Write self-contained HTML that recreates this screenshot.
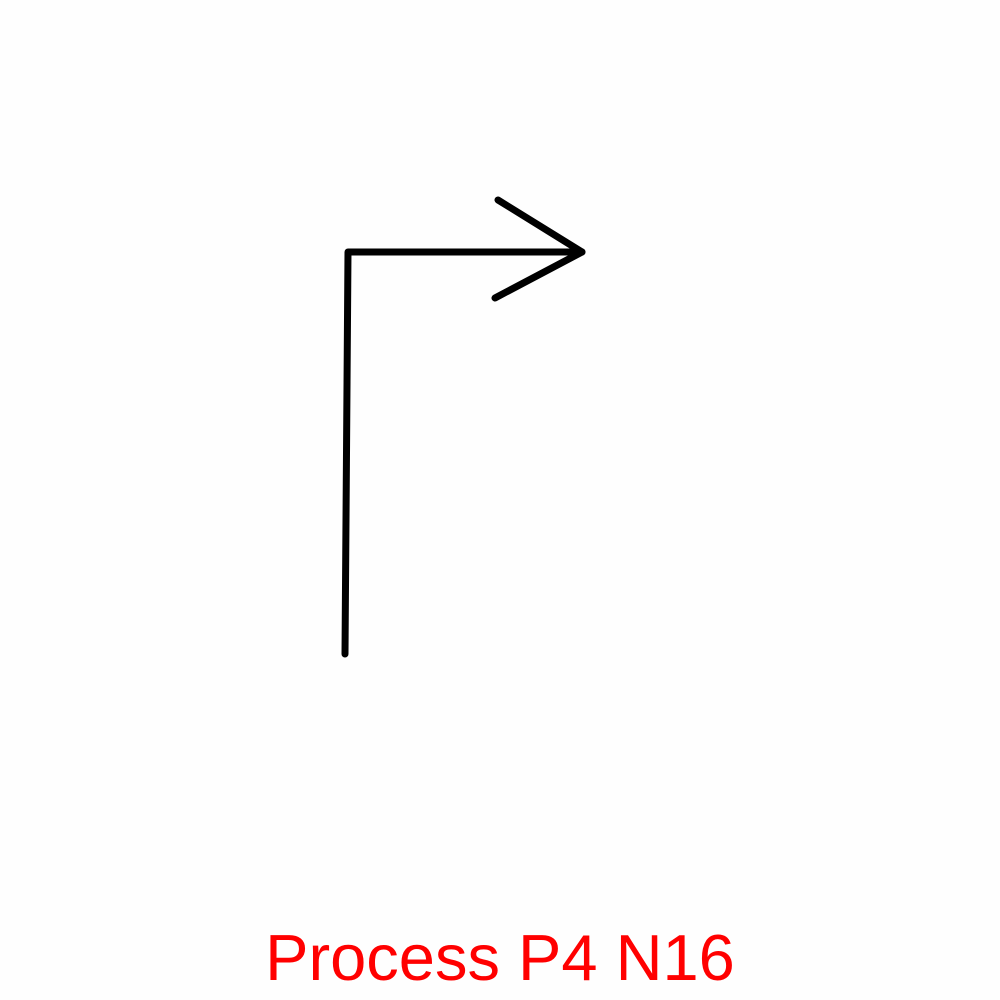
<!DOCTYPE html>
<html>
<head>
<meta charset="utf-8">
<style>
  html, body { margin: 0; padding: 0; background: #fff; }
  svg { display: block; }
</style>
</head>
<body>
<svg width="1000" height="1000" viewBox="0 0 1000 1000">
  <rect width="1000" height="1000" fill="#fefefe"/>
  <polyline points="345,654 348,252 582,252" fill="none" stroke="#000" stroke-width="7" stroke-linecap="round" stroke-linejoin="round"/>
  <polyline points="498,200 582,252 495,298" fill="none" stroke="#000" stroke-width="7" stroke-linecap="round" stroke-linejoin="round"/>
  <text x="500" y="980" text-anchor="middle" font-family="Liberation Sans, sans-serif" font-size="65" fill="#ff0000">Process P4 N16</text>
</svg>
</body>
</html>
